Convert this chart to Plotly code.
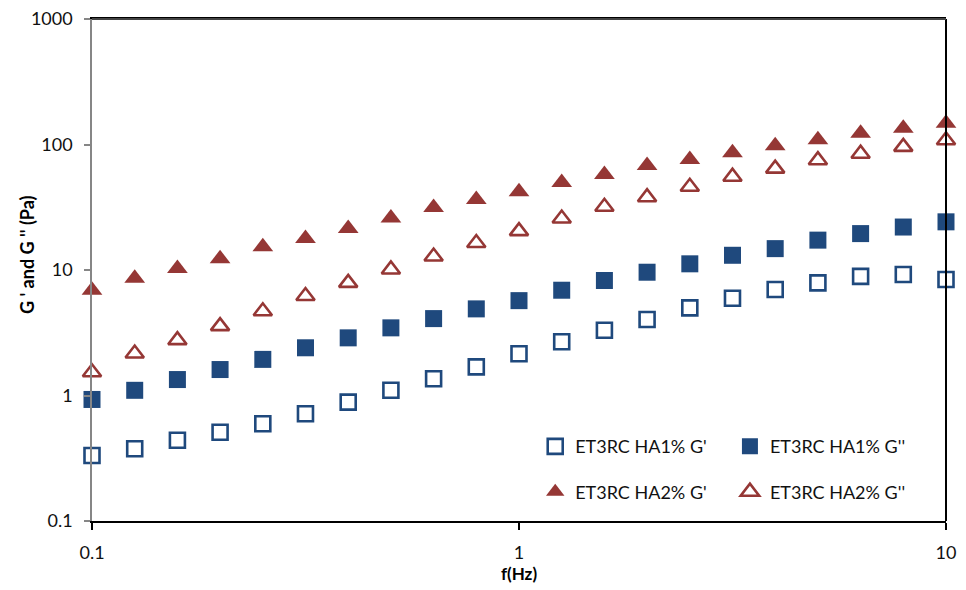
import plotly.graph_objects as go

freq = [0.1, 0.1259, 0.1585, 0.1995, 0.2512, 0.3162, 0.3981, 0.5012, 0.631, 0.7943,
        1.0, 1.259, 1.585, 1.995, 2.512, 3.162, 3.981, 5.012, 6.31, 7.943, 10.0]

ha1_gp = [0.333, 0.376, 0.44, 0.51, 0.595, 0.715, 0.885, 1.10, 1.36, 1.69,
          2.15, 2.68, 3.31, 4.03, 4.99, 5.95, 7.0, 7.9, 8.9, 9.2, 8.4]
ha1_gpp = [0.93, 1.10, 1.34, 1.61, 1.94, 2.40, 2.88, 3.46, 4.1, 4.9,
           5.7, 6.9, 8.25, 9.6, 11.2, 13.1, 14.8, 17.3, 19.5, 22.0, 24.2]
ha2_gp = [6.9, 8.6, 10.3, 12.3, 15.3, 17.8, 21.4, 26.0, 31.5, 36.5,
          42.0, 49.8, 57.6, 68.0, 76.0, 86.0, 97.6, 109.0, 123.0, 135.0, 148.0]
ha2_gpp = [1.53, 2.16, 2.76, 3.57, 4.69, 6.2, 7.9, 10.1, 12.8, 16.4,
           20.4, 25.7, 31.9, 38.0, 46.0, 55.4, 64.2, 75.0, 84.5, 95.8, 108.0]

names = ["ET3RC HA1% G'", "ET3RC HA1% G''", "ET3RC HA2% G'", "ET3RC HA2% G''"]

y_tickvals = [0.1, 1, 10, 100, 1000]
y_ticktext = ["0.1", "1", "10", "100", "1000"]
x_tickvals = [0.1, 1, 10]
x_ticktext = ["0.1", "1", "10"]

BLUE = "#1F497D"
RED = "#953735"
FONT = "Lato"
TXT = "#111111"

fig = go.Figure()

fig.add_trace(go.Scatter(
    x=freq, y=ha1_gp, mode="markers", name=names[0], legend="legend", legendgroup="a",
    marker=dict(symbol="square-open", size=15, color=BLUE, line=dict(width=2.6, color=BLUE)),
    cliponaxis=False))
fig.add_trace(go.Scatter(
    x=freq, y=ha2_gp, mode="markers", name=names[2], legend="legend", legendgroup="b",
    marker=dict(symbol="triangle-up", size=18, color=RED, line=dict(width=0)),
    cliponaxis=False))
fig.add_trace(go.Scatter(
    x=freq, y=ha1_gpp, mode="markers", name=names[1], legend="legend2", legendgroup="c",
    marker=dict(symbol="square", size=17, color=BLUE, line=dict(width=0)),
    cliponaxis=False))
fig.add_trace(go.Scatter(
    x=freq, y=ha2_gpp, mode="markers", name=names[3], legend="legend2", legendgroup="d",
    marker=dict(symbol="triangle-up-open", size=16, color=RED, line=dict(width=2.6, color=RED)),
    cliponaxis=False))

legend_common = dict(
    orientation="v", yanchor="top", xanchor="left",
    bgcolor="rgba(0,0,0,0)", borderwidth=0,
    font=dict(family=FONT, size=18, color=TXT),
    tracegroupgap=19, itemsizing="trace",
)

fig.update_layout(
    width=966, height=590,
    margin=dict(l=92, r=20, t=19, b=69),
    paper_bgcolor="white", plot_bgcolor="white",
    font=dict(family=FONT, size=18, color=TXT),
    showlegend=True,
    legend=dict(x=0.519, y=0.185, **legend_common),
    legend2=dict(x=0.747, y=0.185, **legend_common),
    xaxis=dict(
        type="log", range=[-1, 1], automargin=False,
        tickvals=x_tickvals, ticktext=x_ticktext,
        showgrid=False, zeroline=False,
        showline=True, linecolor="#000000", linewidth=2, mirror=True,
        ticks="outside", ticklen=7, tickcolor="#000000", tickwidth=1.5,
        tickfont=dict(family=FONT, size=18, color=TXT),
        ticklabelstandoff=7,
        title=dict(text="<b>f(Hz)</b>", font=dict(family=FONT, size=17, color="#000"), standoff=3),
    ),
    yaxis=dict(
        type="log", range=[-1, 3], automargin=False,
        tickvals=y_tickvals, ticktext=y_ticktext,
        showgrid=False, zeroline=False,
        showline=True, linecolor="#868686", linewidth=1.5,
        ticks="outside", ticklen=6, tickcolor="#868686", tickwidth=1.5,
        tickfont=dict(family=FONT, size=18, color=TXT),
        ticklabelstandoff=8,
    ),
    annotations=[dict(
        text="<b>G ' and G '' (Pa)</b>", textangle=-90,
        xref="paper", yref="paper", x=(27 - 92) / 854, y=(521 - 255) / 502,
        xanchor="center", yanchor="middle", showarrow=False,
        font=dict(family=FONT, size=18, color="#000"))],
    shapes=[dict(type="line", xref="paper", yref="paper", x0=1, x1=1, y0=0, y1=1,
                 line=dict(color="#000000", width=2)),
            dict(type="line", xref="paper", yref="paper", x0=0, x1=1, y0=1, y1=1,
                 line=dict(color="#444444", width=2))],
)

fig.write_html("out.html")
